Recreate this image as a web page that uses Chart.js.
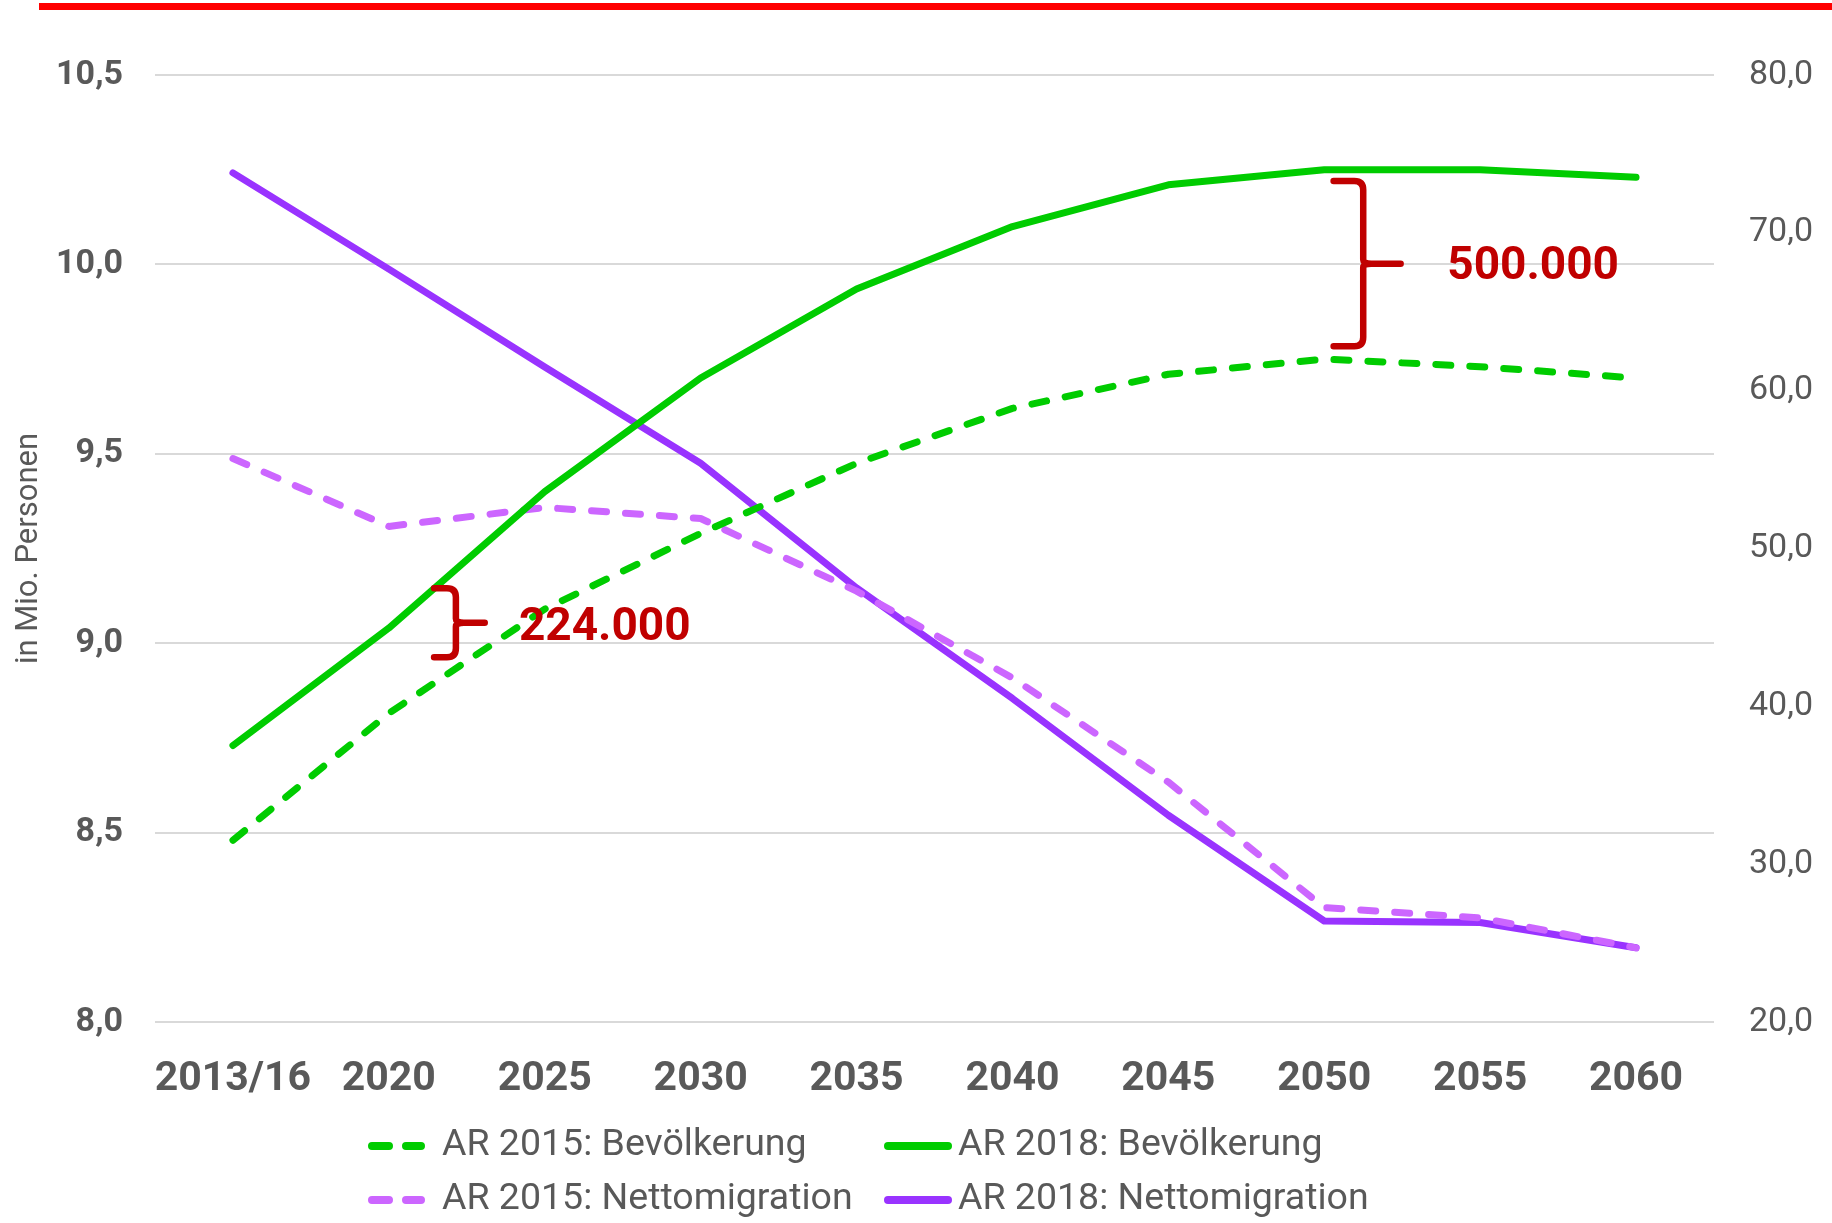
<!DOCTYPE html>
<html><head><meta charset="utf-8">
<script src="https://cdn.jsdelivr.net/npm/chart.js@4/dist/chart.umd.min.js"></script>
<style>html,body{margin:0;padding:0;background:#fff;}#wrap{position:relative;width:1832px;height:1223px;}</style>
</head><body><div id="wrap"><canvas id="c"></canvas></div>
<script>
const categories = ['2013/16','2020','2025','2030','2035','2040','2045','2050','2055','2060'];
const bev2015 = [8.48, 8.815, 9.09, 9.29, 9.475, 9.62, 9.71, 9.75, 9.73, 9.70];
const bev2018 = [8.73, 9.04, 9.40, 9.70, 9.935, 10.10, 10.21, 10.25, 10.25, 10.23];
const netto2015 = [55.7, 51.4, 52.6, 51.9, 47.3, 41.8, 35.2, 27.25, 26.6, 24.7];
const netto2018 = [73.8, 67.7, 61.5, 55.4, 47.5, 40.5, 33.1, 26.4, 26.3, 24.7];
const seriesNames = ['AR 2015: Bevölkerung', 'AR 2018: Bevölkerung', 'AR 2015: Nettomigration', 'AR 2018: Nettomigration'];
const leftAxisTitle = 'in Mio. Personen';
const leftRange = [8.0, 10.5];
const rightRange = [20, 80];
const annotationLabels = ['500.000', '224.000'];
// brace positions in data units: [x index, top value, bottom value, text x index, text value]
const braceSpecs = [
  {x: 7.25, armFrom: 7.06, tip: 7.49, top: 10.22, bottom: 9.784, textX: 8.34, textY: 10.0},
  {x: 1.43, armFrom: 1.29, tip: 1.615, top: 9.145, bottom: 8.963, textX: 2.385, textY: 9.047}
];

const GREEN = '#00CC00', PURPLE = '#9933FF', LILAC = '#CC66FF', GRAY = '#595959', DARKRED = '#C00000';
const fmt = v => Number(v).toFixed(1).replace('.', ',');

const decor = {
  id: 'decor',
  afterDraw(chart) {
    const ctx = chart.ctx;
    const xs = chart.scales.x, ys = chart.scales.y;
    const xPix = i => xs.getPixelForValue(Math.floor(i)) + (i - Math.floor(i)) * (xs.getPixelForValue(1) - xs.getPixelForValue(0));
    ctx.save();
    // red top rule
    ctx.fillStyle = '#FF0000';
    ctx.fillRect(39, 3, chart.width - 39, 7);
    // braces + labels
    braceSpecs.forEach((b, k) => {
      const xv = xPix(b.x), xa = xPix(b.armFrom), xt = xPix(b.tip);
      const yt = ys.getPixelForValue(b.top), yb = ys.getPixelForValue(b.bottom);
      const ym = (yt + yb) / 2;
      const r = 9;
      ctx.strokeStyle = DARKRED; ctx.lineWidth = 6.5; ctx.lineCap = 'round'; ctx.lineJoin = 'round';
      ctx.beginPath();
      ctx.moveTo(xa, yt);
      ctx.lineTo(xv - r, yt);
      ctx.quadraticCurveTo(xv, yt, xv, yt + r);
      ctx.lineTo(xv, ym - 4);
      ctx.quadraticCurveTo(xv, ym, xv + 8, ym);
      ctx.lineTo(xt, ym);
      ctx.moveTo(xv + 8, ym);
      ctx.quadraticCurveTo(xv, ym, xv, ym + 4);
      ctx.lineTo(xv, yb - r);
      ctx.quadraticCurveTo(xv, yb, xv - r, yb);
      ctx.lineTo(xa, yb);
      ctx.stroke();
      ctx.fillStyle = DARKRED;
      ctx.font = 'bold 46px Roboto';
      ctx.textAlign = 'center'; ctx.textBaseline = 'middle';
      ctx.fillText(annotationLabels[k], xPix(b.textX), ys.getPixelForValue(b.textY) + 3);
    });
    // legend
    const pos = [[368, 1146], [884, 1146], [368, 1200], [884, 1200]];
    chart.data.datasets.forEach((ds, i) => {
      const [lx, ly] = pos[i];
      ctx.strokeStyle = ds.borderColor; ctx.lineWidth = 8; ctx.lineCap = 'round'; ctx.setLineDash([]);
      ctx.beginPath();
      if (ds.borderDash && ds.borderDash.length) {
        ctx.moveTo(lx + 4, ly); ctx.lineTo(lx + 21, ly);
        ctx.moveTo(lx + 38, ly); ctx.lineTo(lx + 53, ly);
      } else {
        ctx.moveTo(lx + 4, ly); ctx.lineTo(lx + 64, ly);
      }
      ctx.stroke();
      ctx.fillStyle = GRAY; ctx.font = '37.5px Roboto';
      ctx.textAlign = 'left'; ctx.textBaseline = 'middle';
      const tx = (i % 2 === 0) ? 442 : 958;
      ctx.fillText(ds.label, tx, ly);
    });
    ctx.restore();
  }
};

const mk = (label, data, color, dashed, axis) => ({
  label, data, borderColor: color, backgroundColor: color, yAxisID: axis,
  borderWidth: 7, borderDash: dashed ? [15, 19] : [], borderCapStyle: 'round', borderJoinStyle: 'round',
  pointRadius: 0, tension: 0, fill: false
});

new Chart(document.getElementById('c'), {
  type: 'line',
  data: {
    labels: categories,
    datasets: [
      mk(seriesNames[0], bev2015, GREEN, true, 'y'),
      mk(seriesNames[1], bev2018, GREEN, false, 'y'),
      mk(seriesNames[2], netto2015, LILAC, true, 'y1'),
      mk(seriesNames[3], netto2018, PURPLE, false, 'y1')
    ]
  },
  options: {
    responsive: true, maintainAspectRatio: false, animation: false,
    layout: {padding: {top: 75, left: 0, right: 0, bottom: 0}},
    plugins: {legend: {display: false}, tooltip: {enabled: false}},
    scales: {
      x: {
        offset: true,
        grid: {display: false, drawTicks: false}, border: {display: false},
        ticks: {color: GRAY, font: {family: 'Roboto', weight: 'bold', size: 41}, padding: 33, maxRotation: 0, autoSkip: false},
        afterFit(s) { s.height = 201; }
      },
      y: {
        position: 'left', min: leftRange[0], max: leftRange[1],
        grid: {color: '#D9D9D9', lineWidth: 2, drawTicks: false}, border: {display: false},
        ticks: {stepSize: 0.5, color: GRAY, font: {family: 'Roboto', weight: 'bold', size: 34}, padding: 32, callback: v => fmt(v)},
        title: {display: true, text: leftAxisTitle, color: GRAY, font: {family: 'Roboto', size: 31, lineHeight: 1.2}, padding: {top: 11, bottom: 0}},
        afterFit(s) { s.width = 155; }
      },
      y1: {
        position: 'right', min: rightRange[0], max: rightRange[1],
        grid: {display: false, drawTicks: false}, border: {display: false},
        ticks: {stepSize: 10, color: GRAY, font: {family: 'Roboto', size: 34}, padding: 35, callback: v => fmt(v)},
        afterFit(s) { s.width = 118; }
      }
    }
  },
  plugins: [decor]
});
</script></body></html>
